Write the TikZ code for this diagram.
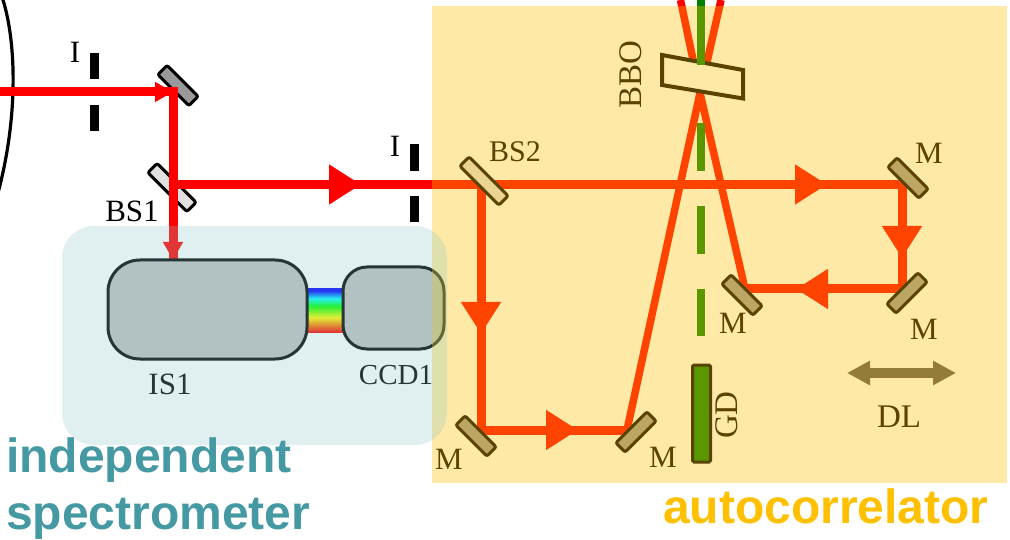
\documentclass[tikz,border=0pt]{standalone}
\usepackage{fontspec}
\setmainfont{Liberation Serif}
\newfontfamily\headfont{Liberation Sans}[BoldFont={Liberation Sans Bold}]
\usetikzlibrary{arrows.meta}
\pgfdeclareverticalshading{rainbowband}{100bp}{color(0bp)=(red);color(25bp)=(red);color(42bp)=(yellow);color(55bp)=(green);color(64bp)=(cyan);color(73bp)=(blue);color(100bp)=(blue)}
\definecolor{beamred}{RGB}{255,0,0}
\definecolor{greenbeam}{RGB}{0,128,0}
\definecolor{tealwash}{RGB}{144,200,200}
\definecolor{yellowwash}{RGB}{255,192,0}
\definecolor{headteal}{RGB}{69,153,162}
\definecolor{headgold}{RGB}{255,192,0}
\tikzset{
 x=1pt,y=-1pt,
 beam/.style={draw=beamred,line width=9pt,line join=miter},
 thinbeam/.style={draw=beamred,line width=7.5pt,line join=miter},
 head/.style={beam,-{Triangle[length=32pt,width=38pt]}},
 smallhead/.style={beam,-{Triangle[length=18pt,width=19pt]}},
 mirror/.style={draw=black,fill=black!40,line width=3pt,rounded corners=2pt,minimum width=44pt,minimum height=13pt,inner sep=0pt,outer sep=0pt},
 splitter/.style={mirror,fill=black!12,minimum width=55pt},
 iris/.style={fill=black,draw=none,minimum width=9pt,minimum height=26.5pt,inner sep=0pt},
 label/.style={font=\fontsize{31}{31}\selectfont,inner sep=0pt,text=black},
 box/.style={draw=black,fill=black!25,line width=3pt,inner sep=0pt},
 heading/.style={font=\headfont\bfseries\fontsize{48}{48}\selectfont,inner sep=0pt,anchor=base west},
}
\begin{document}
\begin{tikzpicture}
\useasboundingbox (0,0) rectangle (1010,540);
\clip (0,0) rectangle (1010,540);
\fill[white] (0,0) rectangle (1010,540);
% coordinates of the beam path
\coordinate (in) at (0,92);
\coordinate (topm) at (173,92);
\coordinate (bs1) at (173,184.5);
\coordinate (is1top) at (173,260);
\coordinate (bs2) at (481,184.5);
\coordinate (m1c) at (902,184.5);
\coordinate (m2c) at (902,289);
\coordinate (m3c) at (745,289);
\coordinate (cross) at (700,93);
\coordinate (m5c) at (481,430);
\coordinate (m4c) at (627,430);
\coordinate (topl) at (680.5,0);
\coordinate (topr) at (721,0);
% curved element
\draw[line width=3.2pt] (2,-3) .. controls (15,35) and (20,110) .. (-2,193);
% mirrors under the red beams
\node[mirror,rotate=-45] (mir0) at (178,85.5) {};
\node[splitter,rotate=-45] (split1) at (172,187.5) {};
% beams
\draw[thinbeam] (cross) -- (topl);
\draw[thinbeam] (cross) -- (topr);
\draw[thinbeam] (cross) -- (m3c);
\draw[thinbeam] (cross) -- (m4c);
\draw[beam] (in) -- (topm) -- (is1top);
\draw[beam] (bs1) -- (bs2) -- (m1c) -- (m2c) -- (m3c);
\draw[beam] (bs2) -- (m5c) -- (m4c);
% arrow heads
\coordinate (h1a) at (329,184.5); \coordinate (h1b) at (361,184.5);
\coordinate (h2a) at (793,184.5); \coordinate (h2b) at (827,184.5);
\coordinate (h3a) at (902,226); \coordinate (h3b) at (902,258);
\coordinate (h4a) at (828,289); \coordinate (h4b) at (796,289);
\coordinate (h5a) at (481,302); \coordinate (h5b) at (481,334);
\coordinate (h6a) at (545,430); \coordinate (h6b) at (578,430);
\coordinate (h7a) at (155,92); \coordinate (h7b) at (173,92);
\coordinate (h8a) at (173,242); \coordinate (h8b) at (173,260);
\draw[head] (h1a) -- (h1b);
\draw[head] (h2a) -- (h2b);
\draw[head] (h3a) -- (h3b);
\draw[head] (h4a) -- (h4b);
\draw[head] (h5a) -- (h5b);
\draw[head] (h6a) -- (h6b);
\draw[smallhead] (h7a) -- (h7b);
\draw[smallhead] (h8a) -- (h8b);
% mirrors over the beams
\node[mirror,rotate=-45] (mir1) at (908,178) {};
\node[mirror,rotate=45] (mir2) at (907,293) {};
\node[mirror,rotate=-45] (mir3) at (742,295) {};
\node[mirror,rotate=45] (mir4) at (636,432) {};
\node[mirror,rotate=-45] (mir5) at (476,436) {};
\node[splitter,rotate=-45] (split2) at (484,181) {};
% irises
\node[iris] (i1a) at (94.5,66) {};
\node[iris] (i1b) at (94.5,118) {};
\node[iris] (i2a) at (414.5,157.5) {};
\node[iris] (i2b) at (414.5,209) {};
% BBO
\draw[draw=black,fill=white,line width=4pt,line join=miter] (662,55) -- (743,70) -- (743,98.5) -- (662,85) -- cycle;
% green beam
\coordinate (g0) at (701,0); \coordinate (g1) at (701,65);
\coordinate (g2) at (701,123); \coordinate (g3) at (701,336);
\draw[greenbeam,line width=8.5pt] (g0) -- (g1);
\draw[greenbeam,line width=8.5pt,dash pattern=on 48pt off 35pt] (g2) -- (g3);
\node[draw=black,fill=greenbeam,line width=3pt,rounded corners=1.5pt,minimum width=18pt,minimum height=97pt,inner sep=0pt,outer sep=0pt] (gd) at (701.5,413.5) {};
% spectrometer
\shade[shading=rainbowband] (306,289) rectangle (344,332);
\draw[box,rounded corners=32pt] (108,260) rectangle (307,359);
\draw[box,rounded corners=24pt] (343,267) rectangle (444,349);
% DL arrow
\draw[draw=black!65,line width=10pt,{Triangle[length=23pt,width=23pt]}-{Triangle[length=23pt,width=23pt]}] (847,373) coordinate (dl1) -- (956,373) coordinate (dl2);
% labels
\node[label] (li1) at (75,52) {I};
\node[label] (li2) at (395,146) {I};
\node[label] (lbs1) at (132,211) {BS1};
\node[label,font=\fontsize{30}{30}\selectfont] (lbs2) at (515,152) {BS2};
\node[label] (lm1) at (929,153) {M};
\node[label] (lm2) at (924,329) {M};
\node[label] (lm3) at (733,323) {M};
\node[label] (lm4) at (663,457) {M};
\node[label] (lm5) at (449,459) {M};
\node[label,font=\fontsize{33}{33}\selectfont] (ldl) at (899,417) {DL};
\node[label,rotate=90,font=\fontsize{33}{33}\selectfont] (lgd) at (727,415) {GD};
\node[label,rotate=90,font=\fontsize{33}{33}\selectfont] (lbbo) at (631,75) {BBO};
\node[label] (lis) at (170,384) {IS1};
\node[label,font=\fontsize{29}{29}\selectfont] (lccd) at (396,375) {CCD1};
% washes
\fill[yellowwash,fill opacity=.35] (432,6) rectangle (1007,483);
\fill[tealwash,fill opacity=.27,rounded corners=32pt] (62,226) rectangle (447,445);
% headings
\node[heading,text=headteal] (hind) at (6,472) {independent};
\node[heading,text=headteal] (hspec) at (6,529) {spectrometer};
\node[heading,text=headgold] (hauto) at (663,523) {autocorrelator};
\end{tikzpicture}
\end{document}
